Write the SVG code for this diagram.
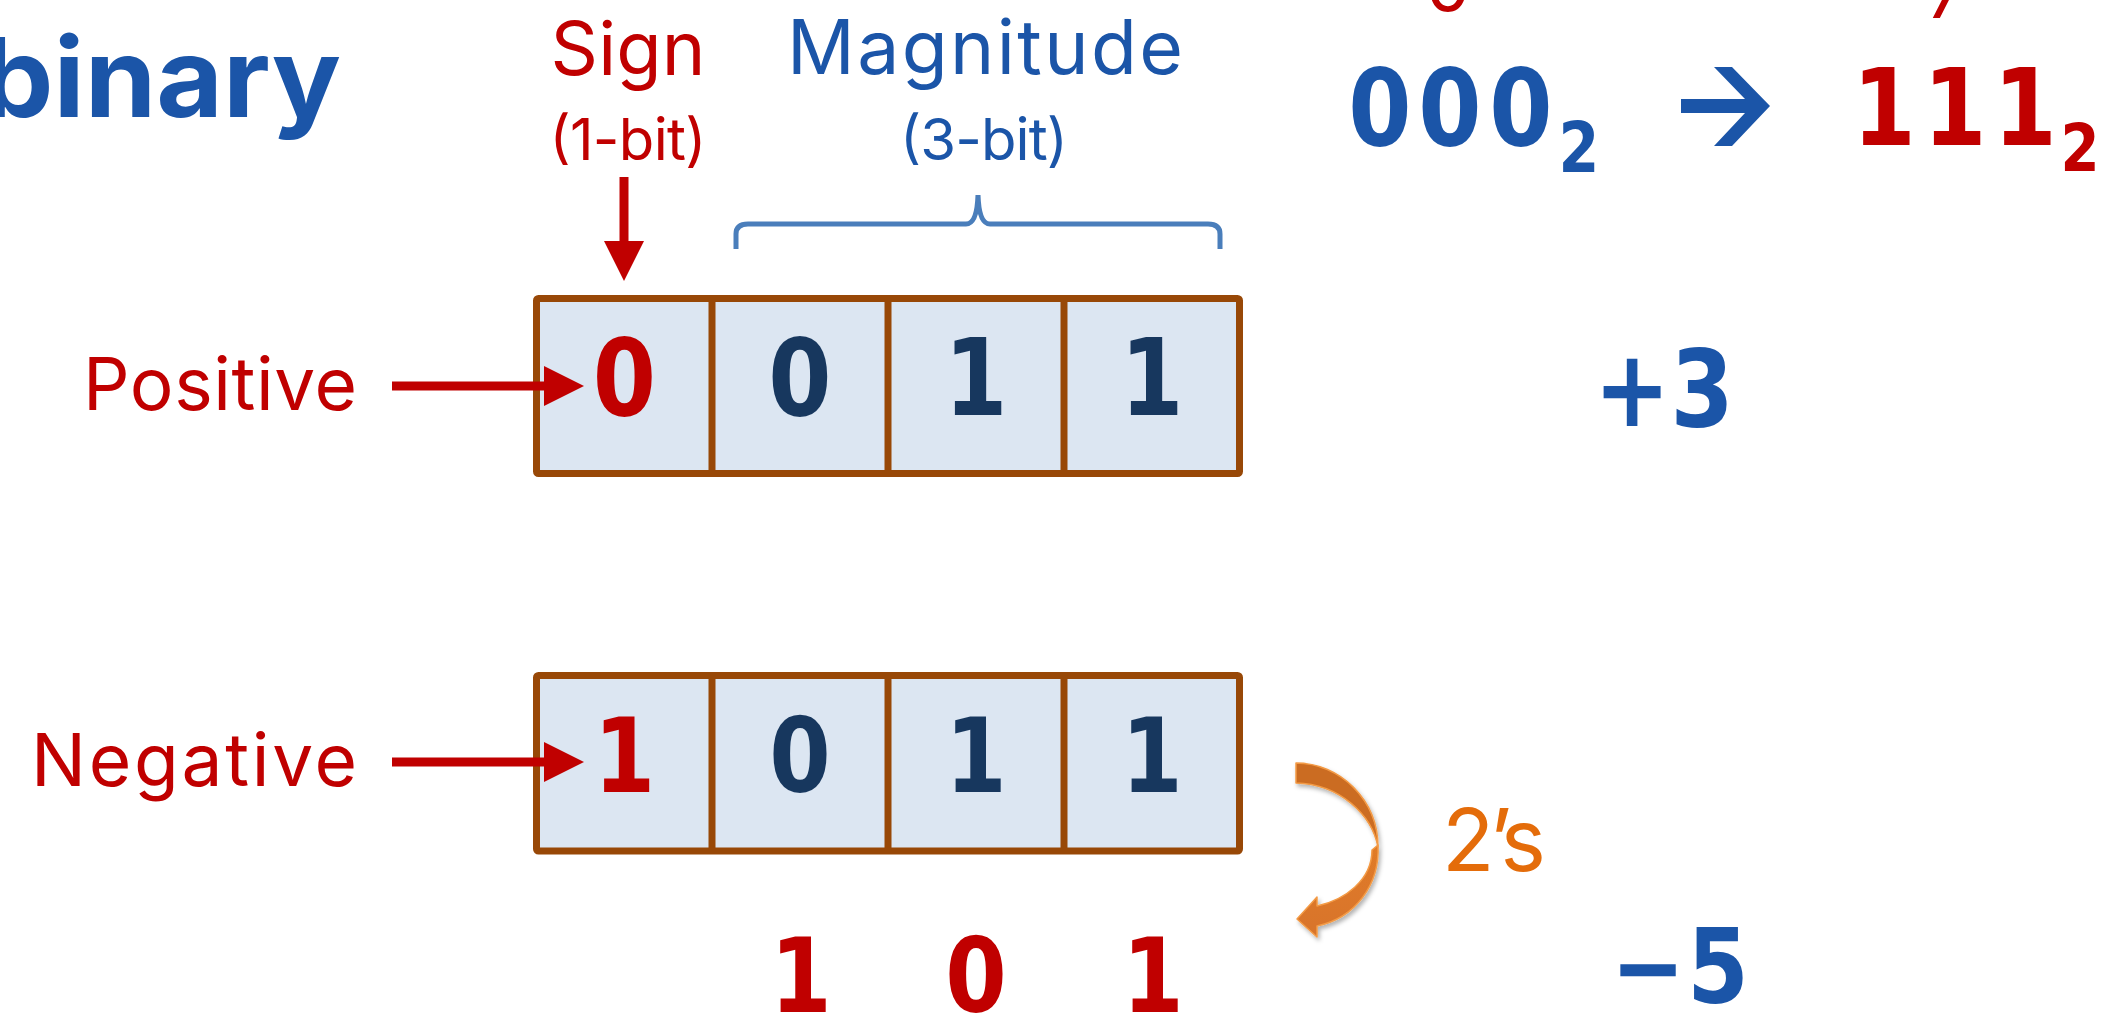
<svg xmlns="http://www.w3.org/2000/svg" width="2109" height="1017" viewBox="0 0 2109 1017">
  <defs>
    <style>
      .lbl { font-family: "Inter", "Noto Sans", "DejaVu Sans", sans-serif; font-weight: 400; }
      .red { fill: #C00000; }
      .blue { fill: #1B55A8; }
      .num { font-family: "DejaVu Sans", "Liberation Sans", sans-serif; font-weight: 700; text-anchor: middle; }
      .navy { fill: #17375E; }
      .cell { fill: #DCE6F2; stroke: #984807; stroke-width: 7; stroke-linejoin: round; }
      .div { stroke: #984807; stroke-width: 7; }
      .conn { stroke: #C00000; stroke-width: 9; fill: none; }
    </style>
    <marker id="head-red" viewBox="0 0 40 40" markerUnits="userSpaceOnUse" markerWidth="40" markerHeight="40" refX="0" refY="20" orient="auto">
      <path d="M0,0 L40,20 L0,40 Z" fill="#C00000"/>
    </marker>
    <linearGradient id="orange-lower" x1="0" y1="0" x2="0" y2="1">
      <stop offset="0" stop-color="#E07B28"/>
      <stop offset="1" stop-color="#D8742A"/>
    </linearGradient>
    <filter id="soft-shadow" x="-30%" y="-20%" width="160%" height="140%">
      <feDropShadow dx="2" dy="3" stdDeviation="2" flood-color="#000" flood-opacity="0.3"/>
    </filter>
  </defs>

  <rect width="2109" height="1017" fill="#FFFFFF"/>

  <!-- title fragment -->
  <g id="title">
    <text x="-19" y="117" textLength="360" lengthAdjust="spacingAndGlyphs" font-family="Inter, 'Noto Sans', sans-serif" font-weight="700" font-size="110" class="blue">binary</text>
  </g>

  <!-- partial labels running off the top edge -->
  <g id="top-values">
    <text x="1448" y="11" class="lbl red" font-size="72" text-anchor="middle">0</text>
    <text x="1946" y="18" class="lbl red" font-size="72" text-anchor="middle">7</text>
  </g>

  <!-- range 000 -> 111 (digits drawn narrow: x coordinates are pre-divided by 0.85) -->
  <g id="range">
    <text class="num blue" font-size="107" transform="scale(0.85 1)" x="1623.5 1705.9 1789.4" y="145">000</text>
    <text class="num blue" font-size="69" transform="scale(0.85 1)" x="1857.6" y="172">2</text>
    <polygon class="blue" points="1681,99 1745,99 1714,67 1732,67 1770,106 1732,146 1714,146 1745,113 1681,113"/>
    <text class="num red" font-size="107" transform="scale(0.85 1)" x="2216.5 2300 2382.4" y="145">111</text>
    <text class="num red" font-size="66" transform="scale(0.85 1)" x="2447.1" y="171">2</text>
  </g>

  <!-- field labels -->
  <g id="label-sign">
    <text x="628" y="75" class="lbl red" font-size="74" text-anchor="middle" textLength="155">Sign</text>
    <text x="628" y="160" class="lbl red" font-size="58" text-anchor="middle" textLength="157">(1-bit)</text>
  </g>
  <g id="label-magnitude">
    <text x="985" y="74" class="lbl blue" font-size="75" text-anchor="middle" textLength="396">Magnitude</text>
    <text x="984" y="160" class="lbl blue" font-size="58" text-anchor="middle" textLength="168">(3-bit)</text>
  </g>
  <g id="brace">
    <path d="M736,249 L736,234 Q736,224 748,224 L966,224 Q977,224 978,195 Q979,224 990,224 L1208,224 Q1220,224 1220,234 L1220,249" fill="none" stroke="#4A7EBB" stroke-width="5"/>
  </g>

  <!-- positive word -->
  <g id="label-positive">
    <text x="83" y="410" class="lbl red" font-size="73" textLength="274">Positive</text>
  </g>
  <g id="word-positive">
    <rect class="cell" x="536.5" y="298.5" width="703" height="175" rx="2"/>
    <line class="div" x1="712" y1="298.5" x2="712" y2="473.5"/>
    <line class="div" x1="888" y1="298.5" x2="888" y2="473.5"/>
    <line class="div" x1="1064" y1="298.5" x2="1064" y2="473.5"/>
    <text class="num red" font-size="107" transform="scale(0.85 1)" x="734.7" y="415">0</text>
    <text class="num navy" font-size="107" transform="scale(0.85 1)" x="941.2 1148.2 1355.3" y="415">011</text>
  </g>
  <g id="value-positive">
    <text class="num blue" font-size="107" transform="scale(0.85 1)" x="1920 2002.4" y="426">+3</text>
  </g>

  <!-- negative word -->
  <g id="label-negative">
    <text x="31" y="786" class="lbl red" font-size="73" textLength="326">Negative</text>
  </g>
  <g id="word-negative">
    <rect class="cell" x="536.5" y="675.5" width="703" height="175.5" rx="2"/>
    <line class="div" x1="712" y1="675.5" x2="712" y2="851"/>
    <line class="div" x1="888" y1="675.5" x2="888" y2="851"/>
    <line class="div" x1="1064" y1="675.5" x2="1064" y2="851"/>
    <text class="num red" font-size="104" transform="scale(0.85 1)" x="734.7" y="792">1</text>
    <text class="num navy" font-size="104" transform="scale(0.85 1)" x="941.2 1148.2 1355.3" y="792">011</text>
  </g>

  <!-- two's complement step -->
  <g id="twos-arrow" filter="url(#soft-shadow)">
    <path d="M1296,763 C1340,763 1378,800 1378,847 C1372,815 1340,784 1296,783 Z" fill="#CB6C20" stroke="#F39A45" stroke-width="1.5" stroke-linejoin="round"/>
    <path d="M1378,845 C1380,885 1355,918 1317,926 L1317,937 L1297,919 L1317,897 L1317,906 C1345,900 1372,880 1372,850 Z" fill="url(#orange-lower)" stroke="#F39A45" stroke-width="1.5" stroke-linejoin="round"/>
  </g>
  <g id="label-twos">
    <text x="1442" y="871" class="lbl" fill="#E46C0A" font-size="86" textLength="104">2’s</text>
  </g>
  <g id="magnitude-result">
    <text class="num red" font-size="104" transform="scale(0.85 1)" x="942.4 1148.2 1356.5" y="1012">101</text>
  </g>
  <g id="value-negative">
    <text class="num blue" font-size="104" transform="scale(0.85 1)" x="1938.8 2021.2" y="1003">−5</text>
  </g>

  <!-- connectors -->
  <g id="connectors">
    <line class="conn" x1="624" y1="177" x2="624" y2="241" marker-end="url(#head-red)"/>
    <line class="conn" x1="392" y1="386" x2="544" y2="386" marker-end="url(#head-red)"/>
    <line class="conn" x1="392" y1="762" x2="544" y2="762" marker-end="url(#head-red)"/>
  </g>
</svg>
